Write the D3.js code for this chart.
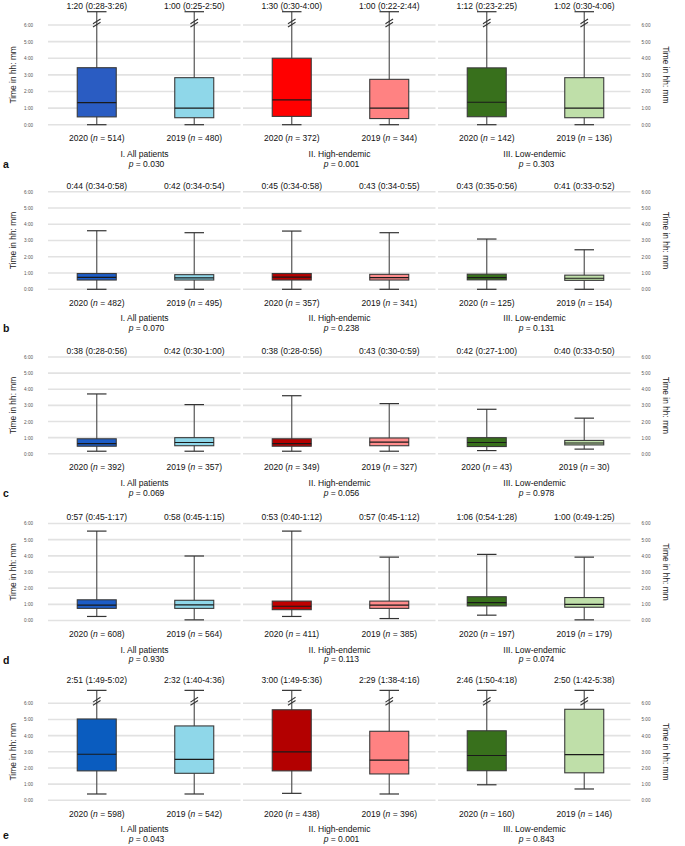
<!DOCTYPE html>
<html>
<head>
<meta charset="utf-8">
<script src="https://cdn.jsdelivr.net/npm/d3@7"></script>
<style>
  html, body { margin: 0; padding: 0; background: #fff; }
  svg { display: block; font-family: "Liberation Sans", Arial, sans-serif; }
</style>
</head>
<body>
<svg id="chart" width="685" height="846"></svg>
<script>
// ---------------- DATA ----------------
const groups = ["I. All patients", "II. High-endemic", "III. Low-endemic"];
const years = ["2020", "2019"];
const panelLetters = ["a", "b", "c", "d", "e"];
const tickLabels = ["0:00", "1:00", "2:00", "3:00", "4:00", "5:00", "6:00"];
const tickValues = [0, 1, 2, 3, 4, 5, 6];

// order in each row: I-2020, I-2019, II-2020, II-2019, III-2020, III-2019
const nValues = [
  [514, 480, 372, 344, 142, 136],
  [482, 495, 357, 341, 125, 154],
  [392, 357, 349, 327, 43, 30],
  [608, 564, 411, 385, 197, 179],
  [598, 542, 438, 396, 160, 146]
];
const pValues = [
  ["0.030", "0.001", "0.303"],
  ["0.070", "0.238", "0.131"],
  ["0.069", "0.056", "0.978"],
  ["0.930", "0.113", "0.074"],
  ["0.043", "0.001", "0.843"]
];
const headerLabels = [
  ["1:20 (0:28-3:26)", "1:00 (0:25-2:50)", "1:30 (0:30-4:00)", "1:00 (0:22-2:44)", "1:12 (0:23-2:25)", "1:02 (0:30-4:06)"],
  ["0:44 (0:34-0:58)", "0:42 (0:34-0:54)", "0:45 (0:34-0:58)", "0:43 (0:34-0:55)", "0:43 (0:35-0:56)", "0:41 (0:33-0:52)"],
  ["0:38 (0:28-0:56)", "0:42 (0:30-1:00)", "0:38 (0:28-0:56)", "0:43 (0:30-0:59)", "0:42 (0:27-1:00)", "0:40 (0:33-0:50)"],
  ["0:57 (0:45-1:17)", "0:58 (0:45-1:15)", "0:53 (0:40-1:12)", "0:57 (0:45-1:12)", "1:06 (0:54-1:28)", "1:00 (0:49-1:25)"],
  ["2:51 (1:49-5:02)", "2:32 (1:40-4:36)", "3:00 (1:49-5:36)", "2:29 (1:38-4:16)", "2:46 (1:50-4:18)", "2:50 (1:42-5:38)"]
];
// box statistics in hours, as drawn in the picture
const medians = [
  [1.33, 1.00, 1.50, 1.00, 1.35, 1.00],
  [0.73, 0.70, 0.75, 0.72, 0.72, 0.68],
  [0.63, 0.70, 0.63, 0.72, 0.70, 0.67],
  [0.95, 0.97, 0.88, 0.95, 1.10, 1.00],
  [2.85, 2.53, 3.00, 2.48, 2.77, 2.83]
];
const q1s = [
  [0.47, 0.42, 0.50, 0.37, 0.48, 0.42],
  [0.57, 0.57, 0.57, 0.57, 0.58, 0.55],
  [0.47, 0.50, 0.47, 0.50, 0.45, 0.55],
  [0.75, 0.75, 0.67, 0.75, 0.90, 0.82],
  [1.82, 1.67, 1.82, 1.63, 1.83, 1.70]
];
const q3s = [
  [3.43, 2.83, 4.00, 2.73, 3.42, 2.83],
  [0.97, 0.90, 0.97, 0.92, 0.93, 0.87],
  [0.93, 1.00, 0.93, 0.98, 1.00, 0.83],
  [1.28, 1.25, 1.20, 1.20, 1.47, 1.42],
  [5.03, 4.60, 5.60, 4.27, 4.30, 5.63]
];
const whiskerLows = [
  [0, 0, 0, 0, 0, 0],
  [0, 0, 0, 0, 0, 0],
  [0.16, 0.16, 0.16, 0.16, 0.20, 0.29],
  [0.25, 0.04, 0.25, 0.12, 0.33, 0.04],
  [0.39, 0.39, 0.43, 0.39, 0.96, 0.70]
];
// null = whisker runs off the 6:00 scale (drawn with a break)
const whiskerHighs = [
  [null, null, null, null, null, null],
  [3.60, 3.48, 3.58, 3.48, 3.09, 2.43],
  [3.71, 3.05, 3.60, 3.11, 2.76, 2.21],
  [5.53, 3.99, 5.53, 3.92, 4.09, 3.92],
  [null, null, null, null, null, null]
];

// ---------------- LAYOUT / STYLE ----------------
const panelY0 = [124.7, 289.3, 453.8, 620.5, 800.3];   // y of 0:00
const panelY6 = [25, 191.7, 357, 523.5, 703.3];         // y of 6:00
const headerOffset = [16.5, 3.2, 3.2, 3.2, 20];         // header baseline above 6:00
const panelColors = [
  ["#2a5cc2", "#8fd7e9", "#ff0000", "#ff8282", "#38701c", "#bfdfa9"],
  ["#1d5cc6", "#8fd7e9", "#b40000", "#ff8c8c", "#38701c", "#bfdfa9"],
  ["#1d5cc6", "#8fd7e9", "#b40000", "#ff8c8c", "#38701c", "#bfdfa9"],
  ["#1d5cc6", "#8fd7e9", "#c00000", "#ff8c8c", "#38701c", "#bfdfa9"],
  ["#0a5cbf", "#8fd7e9", "#b30000", "#ff8282", "#38701c", "#bfdfa9"]
];
const BREAK_TOP = 6.8; // display position (hours) of cap for off-scale whiskers

const svg = d3.select("#chart");
const FONT = 8.5;

const xGroup = d3.scaleBand().domain(groups).range([48, 633]);
const xYear = d3.scaleBand().domain(years).range([0, xGroup.bandwidth()]);
const boxW = xYear.bandwidth() * 0.4;
const capW = xYear.bandwidth() * 0.2;

panelLetters.forEach((letter, p) => {
  const y = d3.scaleLinear().domain([0, 6]).range([panelY0[p], panelY6[p]]);
  const g = svg.append("g");

  // gridlines per group
  groups.forEach(gr => {
    g.selectAll(null).data(tickValues).enter().append("line")
      .attr("x1", xGroup(gr)).attr("x2", xGroup(gr) + xGroup.bandwidth() - 2.5)
      .attr("y1", d => y(d)).attr("y2", d => y(d))
      .attr("stroke", "#e2e2e2").attr("stroke-width", 1.6);
  });

  // left / right axis tick labels
  const leftAxis = d3.axisLeft(y).tickValues(tickValues).tickFormat((d, i) => tickLabels[i]).tickSize(0).tickPadding(0);
  const la = g.append("g").attr("transform", "translate(33,0)").call(leftAxis);
  la.select(".domain").remove();
  la.selectAll("text").attr("font-size", 4.6).attr("fill", "#555").attr("font-family", "Liberation Sans, Arial, sans-serif");

  const rightAxis = d3.axisRight(y).tickValues(tickValues).tickFormat((d, i) => tickLabels[i]).tickSize(0).tickPadding(0);
  const ra = g.append("g").attr("transform", "translate(641.5,0)").call(rightAxis);
  ra.select(".domain").remove();
  ra.selectAll("text").attr("font-size", 4.6).attr("fill", "#555").attr("font-family", "Liberation Sans, Arial, sans-serif");

  // axis titles
  const midY = (panelY0[p] + panelY6[p]) / 2;
  g.append("text").attr("transform", `translate(16,${midY}) rotate(-90)`)
    .attr("text-anchor", "middle").attr("font-size", 8.4).attr("fill", "#222").text("Time in hh: mm");
  g.append("text").attr("transform", `translate(663,${midY}) rotate(90)`)
    .attr("text-anchor", "middle").attr("font-size", 8.4).attr("fill", "#222").text("Time in hh: mm");

  // boxes
  groups.forEach((gr, gi) => {
    years.forEach((yr, yi) => {
      const k = gi * 2 + yi;
      const cx = xGroup(gr) + xYear(yr) + xYear.bandwidth() / 2;
      const hi = whiskerHighs[p][k];
      const hiY = hi === null ? y(BREAK_TOP) : y(hi);
      const loY = y(whiskerLows[p][k]);

      g.append("line").attr("x1", cx).attr("x2", cx)
        .attr("y1", hiY).attr("y2", loY)
        .attr("stroke", "#555").attr("stroke-width", 1.2);
      [hiY, loY].forEach(cy => {
        g.append("line").attr("x1", cx - capW / 2).attr("x2", cx + capW / 2)
          .attr("y1", cy).attr("y2", cy)
          .attr("stroke", "#333").attr("stroke-width", 1.2);
      });
      if (hi === null) {
        const by = y(6) - 2;
        [-1.6, 1.6].forEach(off => {
          g.append("line")
            .attr("x1", cx - 3.8).attr("y1", by + off + 2.4)
            .attr("x2", cx + 3.8).attr("y2", by + off - 2.4)
            .attr("stroke", "#333").attr("stroke-width", 1.1);
        });
      }
      g.append("rect")
        .attr("x", cx - boxW / 2).attr("width", boxW)
        .attr("y", y(q3s[p][k])).attr("height", y(q1s[p][k]) - y(q3s[p][k]))
        .attr("fill", panelColors[p][k]).attr("stroke", "#3a3a3a").attr("stroke-width", 1.1);
      g.append("line").attr("x1", cx - boxW / 2).attr("x2", cx + boxW / 2)
        .attr("y1", y(medians[p][k])).attr("y2", y(medians[p][k]))
        .attr("stroke", "#1a1a1a").attr("stroke-width", 1.2);

      g.append("text").attr("x", cx).attr("y", y(6) - headerOffset[p])
        .attr("text-anchor", "middle").attr("font-size", FONT).attr("fill", "#111")
        .text(headerLabels[p][k]);
      const t = g.append("text").attr("x", cx).attr("y", y(0) + 16.3)
        .attr("text-anchor", "middle").attr("font-size", FONT).attr("fill", "#111");
      t.append("tspan").text(yr + " (");
      t.append("tspan").attr("font-style", "italic").text("n");
      t.append("tspan").text(" = " + nValues[p][k] + ")");
    });

    const gx = xGroup(gr) + xGroup.bandwidth() / 2 - 1;
    g.append("text").attr("x", gx).attr("y", y(0) + 32)
      .attr("text-anchor", "middle").attr("font-size", FONT).attr("fill", "#111").text(gr);
    const pt = g.append("text").attr("x", gx + 2).attr("y", y(0) + 41.8)
      .attr("text-anchor", "middle").attr("font-size", FONT).attr("fill", "#111");
    pt.append("tspan").attr("font-style", "italic").text("p");
    pt.append("tspan").text(" = " + pValues[p][gi]);
  });

  g.append("text").attr("x", 3).attr("y", p === 4 ? y(0) + 38.5 : y(0) + 43)
    .attr("font-size", 10.5).attr("font-weight", "bold").attr("fill", "#111").text(letter);
});
</script>
</body>
</html>
